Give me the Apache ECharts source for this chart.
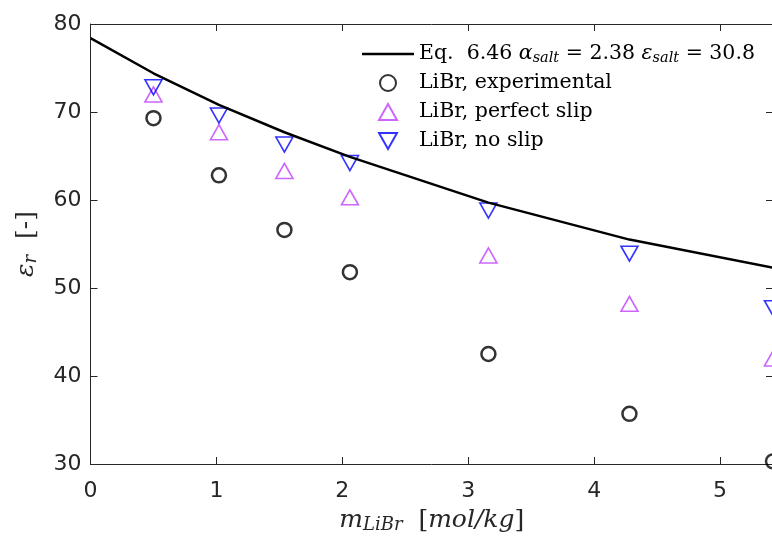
<!DOCTYPE html>
<html><head><meta charset="utf-8">
<script src="https://cdn.jsdelivr.net/npm/echarts@6/dist/echarts.min.js"></script>
<style>html,body{margin:0;padding:0;background:#fff}#c{width:772px;height:538px}</style>
</head><body><div id="c"></div>
<script>
// ---- data ----
const molality     = [0.50, 1.02, 1.54, 2.06, 3.16, 4.28, 5.42];
const experimental = [69.3, 62.8, 56.6, 51.8, 42.5, 35.7, 30.3];
const perfectSlip  = [72.0, 67.7, 63.3, 60.3, 53.7, 48.2, 42.0];
const noSlip       = [72.8, 69.6, 66.3, 64.2, 58.8, 53.9, 47.7];
const eqX          = [0, 0.50, 1.02, 1.54, 2.06, 3.16, 4.28, 5.42];
const eqY          = [78.4, 74.4, 70.8, 67.7, 64.9, 59.7, 55.5, 52.3];
const xTicks = [0, 1, 2, 3, 4, 5];
const yTicks = [30, 40, 50, 60, 70, 80];
const seriesNames = ['eq', 'LiBr, experimental', 'LiBr, perfect slip', 'LiBr, no slip'];

const AX = '#262626';
const SERIF = '"DejaVu Serif", "Liberation Serif", serif';
const SANS = '"DejaVu Sans", "Liberation Sans", Arial, sans-serif';
const richStyles = {
  r: {fontFamily: SERIF, fontSize: 20.5, lineHeight: 24, color: '#000'},
  i: {fontFamily: SERIF, fontStyle: 'italic', fontSize: 20.5, lineHeight: 24, color: '#000'},
  s: {fontFamily: SERIF, fontStyle: 'italic', fontSize: 14.5, lineHeight: 10, verticalAlign: 'bottom', color: '#000'}
};
const axRich = {
  r: {fontFamily: SERIF, fontSize: 25, lineHeight: 28, color: AX},
  i: {fontFamily: SERIF, fontStyle: 'italic', fontSize: 25, lineHeight: 28, color: AX},
  s: {fontFamily: SERIF, fontStyle: 'italic', fontSize: 18, lineHeight: 12, verticalAlign: 'bottom', color: AX}
};
const pair = (xs, ys) => xs.map((x, k) => [x, ys[k]]);
const xMin = xTicks[0], xMax = molality[molality.length - 1];
const yMin = yTicks[0], yMax = yTicks[yTicks.length - 1];

const chart = echarts.init(document.getElementById('c'), null, {renderer: 'canvas'});
const baseX = {
  type: 'value', min: xMin, max: xMax, interval: 1,
  axisLine: {show: true, onZero: false, lineStyle: {color: AX, width: 1}},
  axisTick: {show: true, inside: true, length: 7, lineStyle: {color: AX}},
  splitLine: {show: false}
};
const baseY = {
  type: 'value', min: yMin, max: yMax, interval: 10,
  axisLine: {show: true, onZero: false, lineStyle: {color: AX, width: 1}},
  axisTick: {show: true, inside: true, length: 7, lineStyle: {color: AX}},
  splitLine: {show: false}
};
chart.setOption({
  animation: false,
  backgroundColor: '#fff',
  grid: {left: 90.5, top: 24, width: 682.5, height: 440, containLabel: false, outerBoundsMode: 'none'},
  xAxis: [
    Object.assign({}, baseX, {
      position: 'bottom',
      axisLabel: {show: true, showMaxLabel: false, color: AX, fontFamily: SANS, fontSize: 22, margin: 16},
      name: '{i|m}{s|LiBr}{r|  [}{i|mol/kg}{r|]}',
      nameLocation: 'middle', nameGap: 42,
      nameTextStyle: {rich: axRich}
    }),
    Object.assign({}, baseX, {position: 'top', axisLabel: {show: false}})
  ],
  yAxis: [
    Object.assign({}, baseY, {
      position: 'left',
      axisLabel: {show: true, color: AX, fontFamily: SANS, fontSize: 22, margin: 9},
      name: '{i|ε}{s|r}{r|  [-]}',
      nameLocation: 'middle', nameGap: 50, nameRotate: 90,
      nameTextStyle: {rich: axRich}
    }),
    Object.assign({}, baseY, {position: 'right', axisLabel: {show: false}})
  ],
  legend: {
    orient: 'vertical', left: 362, top: 42, padding: 0,
    itemWidth: 52, itemHeight: 16, itemGap: 5,
    data: [
      {name: seriesNames[0], icon: 'path://M0,0L52,0L52,2.5L0,2.5Z', itemStyle: {color: '#000', borderWidth: 0}},
      seriesNames[1], seriesNames[2], seriesNames[3]
    ],
    textStyle: {fontFamily: SERIF, fontSize: 20.5, lineHeight: 24, color: '#000', rich: richStyles},
    formatter: function (name) {
      if (name === 'eq') {
        return '{r|Eq.  6.46 }{i|α}{s|salt}{r| = 2.38 }{i|ε}{s|salt}{r| = 30.8}';
      }
      return '{r|' + name + '}';
    }
  },
  series: [
    {
      name: seriesNames[0], type: 'line', data: pair(eqX, eqY),
      symbol: 'none', showSymbol: false, smooth: false,
      lineStyle: {color: '#000', width: 2.5}, itemStyle: {color: '#000'}
    },
    {
      name: seriesNames[1], type: 'scatter', data: pair(molality, experimental),
      symbol: 'circle', symbolSize: 14,
      itemStyle: {color: 'rgba(0,0,0,0)', borderColor: '#000', borderWidth: 2.5}
    },
    {
      name: seriesNames[2], type: 'scatter', data: pair(molality, perfectSlip),
      symbol: 'path://M0,16L9,0L18,16Z', symbolSize: [17, 15],
      itemStyle: {color: 'rgba(0,0,0,0)', borderColor: '#bf40ff', borderWidth: 1.6}
    },
    {
      name: seriesNames[3], type: 'scatter', data: pair(molality, noSlip),
      symbol: 'path://M0,0L18,0L9,16Z', symbolSize: [17, 15],
      itemStyle: {color: 'rgba(0,0,0,0)', borderColor: '#0000ff', borderWidth: 1.6}
    }
  ]
});
</script>
</body></html>
